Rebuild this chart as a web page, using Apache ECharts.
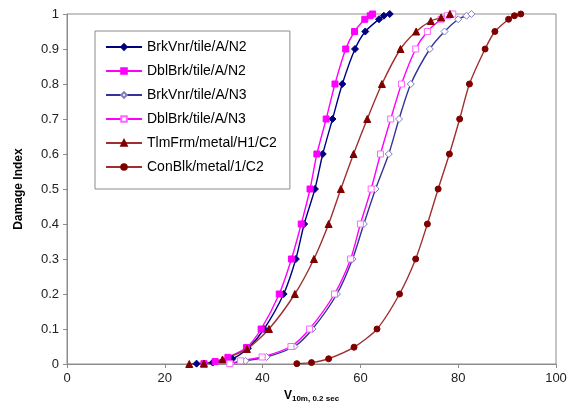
<!DOCTYPE html>
<html>
<head>
<meta charset="utf-8">
<script src="https://cdn.jsdelivr.net/npm/echarts@6/dist/echarts.min.js"></script>
<style>
html,body{margin:0;padding:0;background:#fff;}
#showChart{width:577px;height:409px;}
</style>
</head>
<body>
<div id="showChart"></div>
<script>
// series names
var names = ['BrkVnr/tile/A/N2', 'DblBrk/tile/A/N2', 'BrkVnr/tile/A/N3', 'DblBrk/tile/A/N3', 'TlmFrm/metal/H1/C2', 'ConBlk/metal/1/C2'];

// wind speed (x) and damage index (y)
var brkN2_x = [26.5, 29.8, 33.8, 37.0, 40.3, 44.3, 46.8, 48.5, 50.7, 52.3, 54.3, 56.3, 58.9, 61.0, 63.8, 64.8, 66.0];
var brkN2_y = [0.001, 0.004, 0.015, 0.045, 0.1, 0.2, 0.3, 0.4, 0.5, 0.6, 0.7, 0.8, 0.9, 0.95, 0.985, 0.995, 1.0];

var dblN2_x = [28.0, 30.3, 32.9, 36.7, 39.7, 43.4, 45.9, 47.9, 49.7, 51.1, 53.0, 54.8, 57.0, 58.8, 60.9, 62.0, 62.5];
var dblN2_y = [0.001, 0.007, 0.019, 0.047, 0.1, 0.2, 0.3, 0.4, 0.5, 0.6, 0.7, 0.8, 0.9, 0.95, 0.985, 0.995, 1.0];

var brkN3_x = [33.5, 36.5, 40.8, 46.5, 50.2, 55.2, 58.4, 60.7, 63.1, 65.8, 67.9, 70.3, 74.2, 77.2, 80.0, 81.7, 82.7];
var brkN3_y = [0.001, 0.009, 0.02, 0.05, 0.1, 0.2, 0.3, 0.4, 0.5, 0.6, 0.7, 0.8, 0.9, 0.95, 0.985, 0.995, 1.0];

var dblN3_x = [33.3, 35.5, 39.9, 45.8, 49.6, 54.7, 58.0, 60.0, 62.2, 64.1, 66.2, 68.4, 71.3, 73.7, 76.5, 77.8, 78.9];
var dblN3_y = [0.001, 0.009, 0.02, 0.05, 0.1, 0.2, 0.3, 0.4, 0.5, 0.6, 0.7, 0.8, 0.9, 0.95, 0.985, 0.995, 1.0];

var tlm_x = [25.0, 28.0, 31.8, 36.8, 41.3, 46.6, 50.5, 53.5, 56.0, 58.6, 61.4, 64.4, 68.2, 71.4, 74.4, 76.5, 78.3];
var tlm_y = [0.0, 0.001, 0.013, 0.043, 0.1, 0.2, 0.3, 0.4, 0.5, 0.6, 0.7, 0.8, 0.9, 0.95, 0.98, 0.99, 1.0];

var con_x = [47.0, 50.0, 53.5, 58.7, 63.4, 68.0, 71.3, 73.7, 75.9, 78.2, 80.3, 82.3, 85.5, 87.5, 90.3, 91.5, 92.8];
var con_y = [0.001, 0.004, 0.015, 0.048, 0.1, 0.2, 0.3, 0.4, 0.5, 0.6, 0.7, 0.8, 0.9, 0.95, 0.985, 0.995, 1.0];

var xTicks = [0, 20, 40, 60, 80, 100];
var yTicks = [0, 0.1, 0.2, 0.3, 0.4, 0.5, 0.6, 0.7, 0.8, 0.9, 1];

function pairs(xs, ys) {
    var out = [];
    for (var i = 0; i < xs.length; i++) {
        out.push([xs[i], ys[i]]);
    }
    return out;
}

function makeSeries(name, xs, ys, lineColor, symbol, size, fill, border) {
    return {
        name: name,
        type: 'line',
        smooth: 0.25,
        symbol: symbol,
        symbolSize: size,
        showSymbol: true,
        lineStyle: { color: lineColor, width: 1.4 },
        itemStyle: { color: fill, borderColor: border, borderWidth: 1 },
        data: pairs(xs, ys),
        z: 3
    };
}

var myChart = echarts.init(document.getElementById('showChart'));

var option = {
    backgroundColor: '#fff',
    animation: false,
    textStyle: { fontFamily: 'Liberation Sans, Arial, sans-serif' },
    grid: {
        left: 67, right: 21, top: 14, bottom: 45,
        show: true, borderColor: '#8c8c8c', borderWidth: 1
    },
    legend: {
        orient: 'vertical',
        left: 95, top: 31,
        padding: [9, 13, 15, 10],
        itemGap: 10,
        itemWidth: 36, itemHeight: 7,
        borderColor: '#8c8c8c', borderWidth: 1,
        backgroundColor: '#fff',
        textStyle: { fontSize: 14, color: '#000', fontFamily: 'Liberation Sans, Arial, sans-serif' },
        data: names
    },
    xAxis: {
        type: 'value',
        min: 0, max: 100, interval: 20,
        name: '{v|V}{s|10m, 0.2 sec}',
        nameLocation: 'middle',
        nameGap: 23,
        nameTextStyle: {
            rich: {
                v: { fontSize: 12, fontWeight: 'bold', color: '#000' },
                s: { fontSize: 8, fontWeight: 'bold', color: '#000', verticalAlign: 'bottom', padding: [6, 0, 0, 0] }
            }
        },
        axisLine: { lineStyle: { color: '#8c8c8c' } },
        axisTick: { show: true, length: 4, lineStyle: { color: '#8c8c8c' } },
        axisLabel: { fontSize: 13, color: '#222', margin: 8 },
        splitLine: { show: false }
    },
    yAxis: {
        type: 'value',
        min: 0, max: 1, interval: 0.1,
        name: 'Damage Index',
        nameLocation: 'middle',
        nameGap: 42,
        nameTextStyle: { fontSize: 12, fontWeight: 'bold', color: '#000' },
        axisLine: { show: true, lineStyle: { color: '#8c8c8c' } },
        axisTick: { show: true, length: 4, lineStyle: { color: '#8c8c8c' } },
        axisLabel: {
            fontSize: 13, color: '#222', margin: 8,
            formatter: function (v) { return String(Math.round(v * 10) / 10); }
        },
        splitLine: { show: false }
    },
    series: [
        makeSeries(names[0], brkN2_x, brkN2_y, '#000080', 'diamond', 7, '#000080', '#000080'),
        makeSeries(names[1], dblN2_x, dblN2_y, '#ff00ff', 'rect', 6, '#ff00ff', '#ff00ff'),
        makeSeries(names[2], brkN3_x, brkN3_y, '#333399', 'diamond', 7, '#ffffff', '#8080c0'),
        makeSeries(names[3], dblN3_x, dblN3_y, '#ff00ff', 'rect', 6, '#ffffff', '#ff66ff'),
        makeSeries(names[4], tlm_x, tlm_y, '#a03030', 'triangle', 7, '#800000', '#800000'),
        makeSeries(names[5], con_x, con_y, '#a03030', 'circle', 6, '#800000', '#800000')
    ]
};

myChart.setOption(option);
</script>
</body>
</html>
